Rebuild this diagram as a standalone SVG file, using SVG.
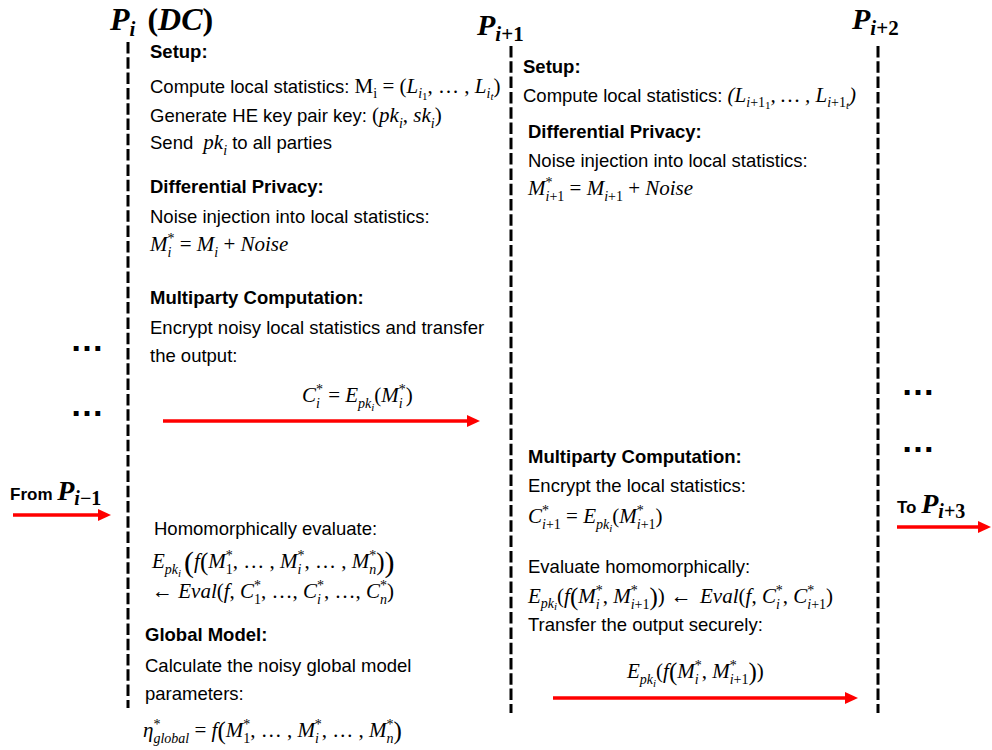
<svg xmlns="http://www.w3.org/2000/svg" width="992" height="750" viewBox="0 0 992 750">
<style>
.t{font-family:"Liberation Sans",Arial,sans-serif;font-size:18.5px;fill:#000}
.b{font-family:"Liberation Sans",Arial,sans-serif;font-size:18.5px;font-weight:bold;fill:#000}
.m{font-family:"Liberation Serif","Times New Roman",serif;font-size:21px;font-style:italic;fill:#000}
.r{font-style:normal}
.s{font-size:14px}
.ss{font-size:11px}
.p1{font-size:25px}
.p2{font-size:30px}
.h{font-family:"Liberation Serif","Times New Roman",serif;font-size:30px;font-weight:bold;font-style:italic;fill:#000}
.hb{font-size:32px}
.hs{font-size:21px}
.hx{font-family:"Liberation Serif","Times New Roman",serif;font-size:28px;font-weight:bold;font-style:italic;fill:#000}
.hxs{font-size:20px}
.fb{font-family:"Liberation Sans",Arial,sans-serif;font-size:17px;font-style:normal;font-weight:bold}
.dots{font-family:"Liberation Sans",Arial,sans-serif;font-size:34px;font-weight:bold;fill:#000}
.life{stroke:#000;stroke-width:3;stroke-dasharray:11.5 3.8;fill:none}
.arrow{stroke:#FF0000;stroke-width:3.5;fill:none;marker-end:url(#ah)}
</style>
<defs>
<marker id="ah" markerUnits="userSpaceOnUse" markerWidth="13" markerHeight="12" refX="2" refY="6" orient="auto" viewBox="0 0 13 12"><path d="M0,0 L13,6 L0,12 z" fill="#FF0000"/></marker>
</defs>

<g id="party-i">
<line class="life" x1="128" y1="42" x2="128" y2="708"/>
<text class="h hb" x="110" y="30">P<tspan class="hs" dy="6">i</tspan><tspan class="r" dx="4" dy="-6"> (</tspan>DC<tspan class="r">)</tspan></text>
<text class="b" x="150" y="58">Setup:</text>
<text class="t" x="150" y="93">Compute local statistics: <tspan class="m"><tspan class="r">M</tspan><tspan class="s r" dy="5">i</tspan><tspan class="r" dy="-5"> = (</tspan>L<tspan class="s" dy="5">i</tspan><tspan class="ss r" dy="2">1</tspan><tspan class="r" dy="-7">, … , </tspan>L<tspan class="s" dy="5">i</tspan><tspan class="ss" dy="2">t</tspan><tspan class="r" dy="-7">)</tspan></tspan></text>
<text class="t" x="150" y="122">Generate HE key pair key: <tspan class="m"><tspan class="r">(</tspan>pk<tspan class="s" dy="6">i</tspan><tspan class="r" dy="-6">, </tspan>sk<tspan class="s" dy="6">i</tspan><tspan class="r" dy="-6">)</tspan></tspan></text>
<text class="t" x="150" y="149">Send <tspan class="m" dx="5">pk<tspan class="s" dy="6">i</tspan></tspan><tspan dy="-6"> to all parties</tspan></text>
<text class="b" x="150" y="193">Differential Privacy:</text>
<text class="t" x="150" y="223">Noise injection into local statistics:</text>
<text class="m" x="150" y="251">M<tspan class="s" dy="6">i</tspan><tspan class="s r" dx="-4" dy="-14">*</tspan><tspan class="r" dy="8"> = </tspan>M<tspan class="s" dy="6">i</tspan><tspan class="r" dy="-6"> + </tspan>Noise</text>
<text class="b" x="150" y="304">Multiparty Computation:</text>
<text class="t" x="150" y="334">Encrypt noisy local statistics and transfer</text>
<text class="t" x="150" y="362">the output:</text>
<text class="m" x="302" y="402">C<tspan class="s" dy="6">i</tspan><tspan class="s r" dx="-4" dy="-14">*</tspan><tspan class="r" dy="8"> = </tspan>E<tspan class="s" dy="6">pk</tspan><tspan class="ss" dy="3">i</tspan><tspan class="r" dy="-9">(</tspan>M<tspan class="s" dy="6">i</tspan><tspan class="s r" dx="-4" dy="-14">*</tspan><tspan class="r" dy="8">)</tspan></text>
<text class="t" x="154" y="535">Homomorphically evaluate:</text>
<text class="m" x="152" y="568">E<tspan class="s" dy="6">pk</tspan><tspan class="ss" dy="3">i</tspan><tspan class="p2 r" dx="3" dy="-5">(</tspan><tspan dy="-4">f</tspan><tspan class="p1 r" dy="2">(</tspan><tspan dy="-2">M</tspan><tspan class="s r" dy="6">1</tspan><tspan class="s r" dx="-7" dy="-14">*</tspan><tspan class="r" dy="8">, … , </tspan>M<tspan class="s" dy="6">i</tspan><tspan class="s r" dx="-4" dy="-14">*</tspan><tspan class="r" dy="8">, … , </tspan>M<tspan class="s" dy="6">n</tspan><tspan class="s r" dx="-7" dy="-14">*</tspan><tspan class="p1 r" dy="10">)</tspan><tspan class="p2 r" dy="2">)</tspan></text>
<text class="m" x="152" y="598"><tspan class="r">← </tspan>Eval<tspan class="r">(</tspan>f<tspan class="r">, </tspan>C<tspan class="s r" dy="6">1</tspan><tspan class="s r" dx="-7" dy="-14">*</tspan><tspan class="r" dy="8">, …, </tspan>C<tspan class="s" dy="6">i</tspan><tspan class="s r" dx="-4" dy="-14">*</tspan><tspan class="r" dy="8">, …, </tspan>C<tspan class="s" dy="6">n</tspan><tspan class="s r" dx="-7" dy="-14">*</tspan><tspan class="r" dy="8">)</tspan></text>
<text class="b" x="145" y="641">Global Model:</text>
<text class="t" x="145" y="672">Calculate the noisy global model</text>
<text class="t" x="145" y="700">parameters:</text>
<text class="m" x="143" y="737">η<tspan class="s r" dy="-8">*</tspan><tspan class="s" dx="-7" dy="14">global</tspan><tspan class="r" dy="-6"> = </tspan>f<tspan class="p1 r" dy="2">(</tspan><tspan dy="-2">M</tspan><tspan class="s r" dy="6">1</tspan><tspan class="s r" dx="-7" dy="-14">*</tspan><tspan class="r" dy="8">, … , </tspan>M<tspan class="s" dy="6">i</tspan><tspan class="s r" dx="-4" dy="-14">*</tspan><tspan class="r" dy="8">, … , </tspan>M<tspan class="s" dy="6">n</tspan><tspan class="s r" dx="-7" dy="-14">*</tspan><tspan class="p1 r" dy="10">)</tspan></text>
</g>

<g id="party-i1">
<line class="life" x1="511" y1="46" x2="511" y2="713"/>
<text class="h" x="477" y="35">P<tspan class="hs" dy="6">i</tspan><tspan class="hs r">+1</tspan></text>
<text class="b" x="523" y="73">Setup:</text>
<text class="t" x="523" y="102">Compute local statistics: <tspan class="m">(L<tspan class="s" dy="5">i</tspan><tspan class="s r">+1</tspan><tspan class="ss r" dy="2">1</tspan><tspan dy="-7">, … , L</tspan><tspan class="s" dy="5">i</tspan><tspan class="s r">+1</tspan><tspan class="ss" dy="2">t</tspan><tspan dy="-7">)</tspan></tspan></text>
<text class="b" x="528" y="138">Differential Privacy:</text>
<text class="t" x="528" y="167">Noise injection into local statistics:</text>
<text class="m" x="528" y="195">M<tspan class="s r" dy="-8">*</tspan><tspan class="s" dx="-7" dy="14">i</tspan><tspan class="s r">+1</tspan><tspan class="r" dy="-6"> = </tspan>M<tspan class="s" dy="6">i</tspan><tspan class="s r">+1</tspan><tspan class="r" dy="-6"> + </tspan>Noise</text>
<text class="b" x="528" y="463">Multiparty Computation:</text>
<text class="t" x="528" y="492">Encrypt the local statistics:</text>
<text class="m" x="528" y="523">C<tspan class="s r" dy="-8">*</tspan><tspan class="s" dx="-7" dy="14">i</tspan><tspan class="s r">+1</tspan><tspan class="r" dy="-6"> = </tspan>E<tspan class="s" dy="6">pk</tspan><tspan class="ss" dy="3">i</tspan><tspan class="r" dy="-9">(</tspan>M<tspan class="s r" dy="-8">*</tspan><tspan class="s" dx="-7" dy="14">i</tspan><tspan class="s r">+1</tspan><tspan class="r" dy="-6">)</tspan></text>
<text class="t" x="528" y="573">Evaluate homomorphically:</text>
<text class="m" x="528" y="603">E<tspan class="s" dy="5">pk</tspan><tspan class="ss" dy="2">i</tspan><tspan class="r" dy="-7">(</tspan>f<tspan class="p1 r" dy="2">(</tspan><tspan dy="-2">M</tspan><tspan class="s" dy="6">i</tspan><tspan class="s r" dx="-4" dy="-14">*</tspan><tspan class="r" dy="8">, </tspan>M<tspan class="s r" dy="-8">*</tspan><tspan class="s" dx="-7" dy="14">i</tspan><tspan class="s r">+1</tspan><tspan class="p1 r" dy="-4">)</tspan><tspan class="r" dy="-2">)</tspan><tspan class="r" dx="6">← </tspan><tspan dx="3">Eval</tspan><tspan class="r">(</tspan>f<tspan class="r">, </tspan>C<tspan class="s" dy="6">i</tspan><tspan class="s r" dx="-4" dy="-14">*</tspan><tspan class="r" dy="8">, </tspan>C<tspan class="s r" dy="-8">*</tspan><tspan class="s" dx="-7" dy="14">i</tspan><tspan class="s r">+1</tspan><tspan class="r" dy="-6">)</tspan></text>
<text class="t" x="528" y="631">Transfer the output securely:</text>
<text class="m" x="627" y="678">E<tspan class="s" dy="6">pk</tspan><tspan class="ss" dy="3">i</tspan><tspan class="r" dy="-9">(</tspan>f<tspan class="p1 r" dy="2">(</tspan><tspan dy="-2">M</tspan><tspan class="s" dy="6">i</tspan><tspan class="s r" dx="-4" dy="-14">*</tspan><tspan class="r" dy="8">, </tspan>M<tspan class="s r" dy="-8">*</tspan><tspan class="s" dx="-7" dy="14">i</tspan><tspan class="s r">+1</tspan><tspan class="p1 r" dy="-4">)</tspan><tspan class="r" dy="-2">)</tspan></text>
</g>

<g id="party-i2">
<line class="life" x1="878" y1="46" x2="878" y2="713"/>
<text class="h" x="852" y="29">P<tspan class="hs" dy="6">i</tspan><tspan class="hs r">+2</tspan></text>
</g>

<g id="prev-parties">
<text class="dots" x="70" y="351">…</text>
<text class="dots" x="70" y="416">…</text>
<text class="hx" x="10" y="500"><tspan class="fb">From </tspan>P<tspan class="hxs" dy="5">i</tspan><tspan class="hxs r">−1</tspan></text>
</g>

<g id="next-parties">
<text class="dots" x="901" y="395">…</text>
<text class="dots" x="901" y="452">…</text>
<text class="hx" x="897" y="513"><tspan class="fb">To </tspan>P<tspan class="hxs" dy="5">i</tspan><tspan class="hxs r">+3</tspan></text>
</g>

<g id="connectors">
<line class="arrow" x1="163" y1="421" x2="469" y2="421"/>
<line class="arrow" x1="553" y1="698" x2="847" y2="698"/>
<line class="arrow" x1="13" y1="515" x2="100" y2="515"/>
<line class="arrow" x1="897" y1="527" x2="980" y2="527"/>
</g>
</svg>
